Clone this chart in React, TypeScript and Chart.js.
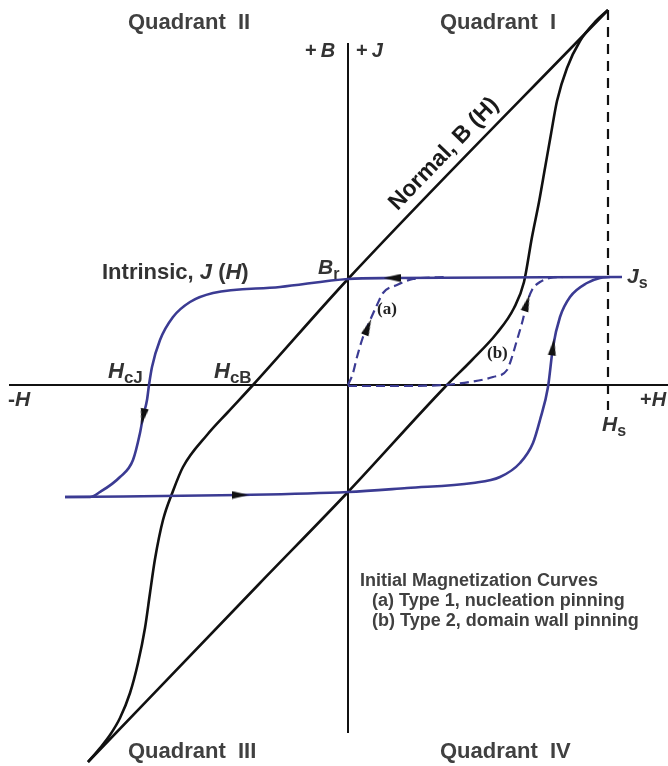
import React, { useEffect, useRef } from 'react';
import { Chart, registerables } from 'chart.js';

Chart.register(...registerables);

// Visible window in data units (H horizontally, B / J vertically, arbitrary units)
const H_MIN = -348;
const H_MAX = 320;
const B_MIN = -381;
const B_MAX = 385;

// Coordinate axes
const hAxisH = [-339, 320];
const hAxisB = [0, 0];
const vAxisH = [0, 0];
const vAxisB = [342, -348];

// Saturation field marker H_s (dashed)
const hsLineH = [260, 260];
const hsLineB = [375, -25];

// Normal B(H) loop: descending branch (coming from +Hs), listed by increasing H
const normalDescH = [-260, -248, -238, -228, -218, -210, -203, -198, -193, -185, -175, -165, -141, -120, -95, 0, 260];
const normalDescB = [-377, -363, -350, -333, -308, -278, -243, -208, -174, -135, -106, -82, -50, -27, 0, 106, 375];

// Normal B(H) loop: ascending branch (coming from -Hs)
const normalAscH = [-260, -88, 0, 97, 124, 149, 166, 176, 184, 191, 197, 203, 209, 219, 232, 248, 260];
const normalAscB = [-377, -198, -107, -2, 25, 52, 77, 103, 148, 183, 217, 251, 284, 317, 344, 364, 375];

// Intrinsic J(H) loop: descending branch
const intrDescH = [-283, -258, -248, -228, -215, -208, -205, -201, -199, -196, -188, -175, -158, -135, -68, 0, 44, 274];
const intrDescJ = [-112, -112, -107, -92, -75, -48, -32, -15, 0, 18, 45, 68, 83, 92, 98, 106, 107, 108];

// Intrinsic J(H) loop: ascending branch
const intrAscH = [-283, -108, 0, 59, 125, 152, 172, 185, 192, 200, 205, 212, 222, 239, 252, 262];
const intrAscJ = [-112, -110, -107, -103, -98, -92, -78, -58, -35, -2, 38, 68, 88, 102, 107, 108];

// Initial magnetization curves
const initAH = [0, 5, 9, 15, 20, 29, 35, 49, 65, 99];
const initAJ = [0, 12, 28, 48, 60, 80, 92, 100, 106, 108];
const initBH = [0, 49, 95, 122, 145, 159, 164, 169, 174, 179, 184, 192, 202, 215];
const initBJ = [-1, -1, 0, 3, 8, 15, 28, 45, 62, 82, 95, 103, 107, 108];

// Direction arrows on the curves
const arrowH = [44, -205, -108, 205, 20, 179];
const arrowJ = [107, -32, -110, 38, 58, 82];
const arrowAngle = [270, 192, 90, 8, 22, 17];

const SANS = "'Liberation Sans', Arial, sans-serif";
const SERIF = "'Liberation Serif', 'Times New Roman', serif";
const TEXT = '#333333';
const GREY = '#404040';
const BLUE = '#3b3b93';
const BLACK = '#111111';

type Run = { t: string; it?: boolean; sub?: boolean };
type Label = {
  h: number;
  b: number;
  runs: Run[];
  size: number;
  color: string;
  family?: string;
  angle?: number;
  align?: 'left' | 'center';
};

const LABELS: Label[] = [
  { h: -220, b: 362, runs: [{ t: 'Quadrant  II' }], size: 22, color: GREY },
  { h: 92, b: 362, runs: [{ t: 'Quadrant  I' }], size: 22, color: GREY },
  { h: -220, b: -367, runs: [{ t: 'Quadrant  III' }], size: 22, color: GREY },
  { h: 92, b: -367, runs: [{ t: 'Quadrant  IV' }], size: 22, color: GREY },
  { h: -43, b: 334, runs: [{ t: '+\u2009' }, { t: 'B', it: true }], size: 20, color: TEXT },
  { h: 8, b: 334, runs: [{ t: '+\u2009' }, { t: 'J', it: true }], size: 20, color: TEXT },
  {
    h: 96, b: 231, angle: -46, align: 'center', size: 23, color: '#1a1a1a',
    runs: [{ t: 'Normal, B (H)' }],
  },
  {
    h: -246, b: 112, size: 22, color: TEXT,
    runs: [{ t: 'Intrinsic, ' }, { t: 'J', it: true }, { t: ' (' }, { t: 'H', it: true }, { t: ')' }],
  },
  { h: -30, b: 117, size: 21, color: TEXT, runs: [{ t: 'B', it: true }, { t: 'r', sub: true }] },
  { h: 279, b: 108, size: 21, color: TEXT, runs: [{ t: 'J', it: true }, { t: 's', sub: true }] },
  { h: -240, b: 13, size: 22, color: TEXT, runs: [{ t: 'H', it: true }, { t: 'cJ', sub: true }] },
  { h: -134, b: 13, size: 22, color: TEXT, runs: [{ t: 'H', it: true }, { t: 'cB', sub: true }] },
  { h: -340, b: -15, size: 21, color: TEXT, runs: [{ t: '-' }, { t: 'H', it: true }] },
  { h: 292, b: -15, size: 20, color: TEXT, runs: [{ t: '+' }, { t: 'H', it: true }] },
  { h: 254, b: -40, size: 21, color: TEXT, runs: [{ t: 'H', it: true }, { t: 's', sub: true }] },
  { h: 29, b: 75, size: 17, color: '#222', family: SERIF, runs: [{ t: '(a)' }] },
  { h: 139, b: 31, size: 17, color: '#222', family: SERIF, runs: [{ t: '(b)' }] },
  { h: 12, b: -196, size: 18, color: GREY, runs: [{ t: 'Initial Magnetization Curves' }] },
  { h: 24, b: -216, size: 18, color: GREY, runs: [{ t: '(a) Type 1, nucleation pinning' }] },
  { h: 24, b: -236, size: 18, color: GREY, runs: [{ t: '(b) Type 2, domain wall pinning' }] },
];

const pts = (xs: number[], ys: number[]) => xs.map((x, i) => ({ x, y: ys[i] }));

const textPlugin = {
  id: 'diagramLabels',
  afterDatasetsDraw(chart: any) {
    const { ctx, scales } = chart;
    const xs = scales.x;
    const ys = scales.y;
    for (const L of LABELS) {
      const px = xs.getPixelForValue(L.h);
      const py = ys.getPixelForValue(L.b);
      const fam = L.family || SANS;
      ctx.save();
      ctx.translate(px, py);
      if (L.angle) ctx.rotate((L.angle * Math.PI) / 180);
      ctx.fillStyle = L.color;
      ctx.textBaseline = 'middle';
      ctx.textAlign = 'left';
      const fonts = L.runs.map(
        (r) => `${r.it ? 'italic ' : ''}bold ${r.sub ? Math.round(L.size * 0.78) : L.size}px ${fam}`
      );
      let total = 0;
      const widths = L.runs.map((r, i) => {
        ctx.font = fonts[i];
        const w = ctx.measureText(r.t).width;
        total += w;
        return w;
      });
      let cx = L.align === 'center' ? -total / 2 : 0;
      L.runs.forEach((r, i) => {
        ctx.font = fonts[i];
        ctx.fillText(r.t, cx, r.sub ? L.size * 0.3 : 0);
        cx += widths[i];
      });
      ctx.restore();
    }
  },
};

function makeArrow(): HTMLCanvasElement {
  const c = document.createElement('canvas');
  c.width = 9;
  c.height = 17;
  const g = c.getContext('2d')!;
  g.fillStyle = BLACK;
  g.beginPath();
  g.moveTo(4.5, 0);
  g.lineTo(8.5, 17);
  g.lineTo(0.5, 17);
  g.closePath();
  g.fill();
  return c;
}

export default function App() {
  const ref = useRef<HTMLCanvasElement | null>(null);

  useEffect(() => {
    if (!ref.current) return;
    const arrow = makeArrow();
    const curve = (data: any, color: string, extra: any = {}) => ({
      data,
      showLine: true,
      borderColor: color,
      borderWidth: 2.6,
      pointRadius: 0,
      cubicInterpolationMode: 'monotone',
      tension: 0.4,
      fill: false,
      ...extra,
    });
    const straight = (data: any, color: string, extra: any = {}) => ({
      data,
      showLine: true,
      borderColor: color,
      borderWidth: 2,
      pointRadius: 0,
      tension: 0,
      fill: false,
      ...extra,
    });

    const chart = new Chart(ref.current, {
      type: 'scatter',
      data: {
        datasets: [
          {
            data: pts(arrowH, arrowJ),
            showLine: false,
            pointStyle: arrow,
            pointRotation: arrowAngle,
            pointRadius: 8,
          } as any,
          curve(pts(initAH, initAJ), BLUE, { borderDash: [9, 5], borderWidth: 2.2 }),
          curve(pts(initBH, initBJ), BLUE, { borderDash: [9, 5], borderWidth: 2.2 }),
          curve(pts(intrDescH, intrDescJ), BLUE),
          curve(pts(intrAscH, intrAscJ), BLUE),
          curve(pts(normalDescH, normalDescB), BLACK),
          curve(pts(normalAscH, normalAscB), BLACK),
          straight(pts(hsLineH, hsLineB), BLACK, { borderDash: [10, 7], borderWidth: 2.2 }),
          straight(pts(hAxisH, hAxisB), BLACK),
          straight(pts(vAxisH, vAxisB), BLACK),
        ],
      },
      options: {
        animation: false,
        responsive: false,
        maintainAspectRatio: false,
        layout: { padding: 0, autoPadding: false },
        events: [],
        plugins: {
          legend: { display: false },
          tooltip: { enabled: false },
          title: { display: false },
        },
        scales: {
          x: { type: 'linear', min: H_MIN, max: H_MAX, display: false },
          y: { type: 'linear', min: B_MIN, max: B_MAX, display: false },
        },
      },
      plugins: [textPlugin],
    });
    return () => chart.destroy();
  }, []);

  return (
    <div style={{ position: 'fixed', left: 0, top: 0, width: 668, height: 766, background: '#fff' }}>
      <canvas ref={ref} width={668} height={766} style={{ display: 'block' }} />
    </div>
  );
}
